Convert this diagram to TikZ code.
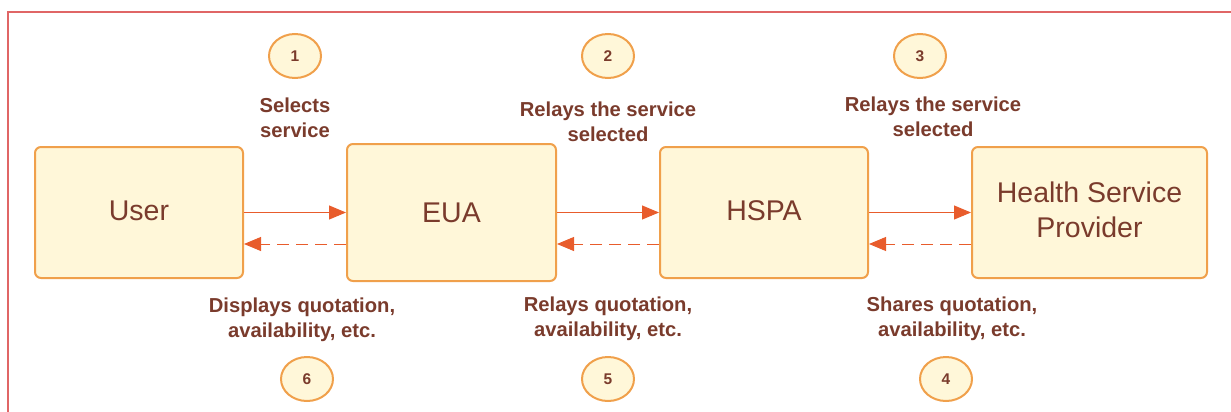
\documentclass[tikz,border=0pt]{standalone}
\usepackage{fontspec}
\setmainfont{Liberation Sans}
\usetikzlibrary{arrows.meta,calc,shapes.geometric}
\definecolor{txtbrown}{HTML}{7A3B2C}
\definecolor{boxfill}{HTML}{FFF7D9}
\definecolor{boxline}{HTML}{F0A04B}
\definecolor{arrowc}{HTML}{E85C2C}
\definecolor{framec}{HTML}{E06666}
\tikzset{
  actor/.style={draw=boxline, fill=boxfill, line width=2pt, rounded corners=6pt,
    text=txtbrown, font=\fontsize{28.5}{35}\selectfont, align=center, inner sep=0pt},
  stepnum/.style={ellipse, draw=boxline, fill=boxfill, line width=2pt,
    minimum width=52pt, minimum height=44pt, inner sep=0pt,
    text=txtbrown, font=\bfseries\fontsize{15.5}{18}\selectfont},
  steplabel/.style={text=txtbrown, font=\bfseries\fontsize{20.2}{24.5}\selectfont, align=center, inner sep=0pt},
  fwd/.style={draw=arrowc, line width=1pt, -{Triangle[length=17pt,width=14pt]}},
  back/.style={draw=arrowc, line width=1pt, dash pattern=on 12pt off 7pt, -{Triangle[length=17pt,width=14pt]}}
}
\begin{document}
\begin{tikzpicture}[x=1pt,y=-1pt]
\useasboundingbox (0,0) rectangle (1231,412);
% frame
\coordinate (fbl) at (8,413);
\coordinate (ftl) at (8,12);
\coordinate (ftr) at (1232,12);
\draw[framec, line width=2.2pt] (fbl) -- (ftl) -- (ftr);
% boxes
\node[actor, minimum width=208pt, minimum height=131pt] (user) at (139,212.5) {\raisebox{4pt}{User}};
\node[actor, minimum width=209pt, minimum height=137pt] (eua) at (451.5,212.5) {EUA};
\node[actor, minimum width=208pt, minimum height=131pt] (hspa) at (764,212.5) {\raisebox{4pt}{HSPA}};
\node[actor, minimum width=235pt, minimum height=131pt] (hsp) at (1089.5,212.5) {\raisebox{4pt}{\begin{tabular}{@{}c@{}}Health Service\\Provider\end{tabular}}};
% arrows
\draw[fwd] (user.east) -- (eua.west);
\draw[fwd] (eua.east) -- (hspa.west);
\draw[fwd] (hspa.east) -- (hsp.west);
\draw[back] ($(eua.west)+(0,31.5)$) -- ($(user.east)+(0,31.5)$);
\draw[back] ($(hspa.west)+(0,31.5)$) -- ($(eua.east)+(0,31.5)$);
\draw[back] ($(hsp.west)+(0,31.5)$) -- ($(hspa.east)+(0,31.5)$);
% step numbers
\node[stepnum] (n1) at (295,56) {1};
\node[stepnum] (n2) at (608,56) {2};
\node[stepnum] (n3) at (920,56) {3};
\node[stepnum] (n6) at (307,379) {6};
\node[stepnum] (n5) at (608,379) {5};
\node[stepnum] (n4) at (946,379) {4};
% labels
\node[steplabel] (l1) at (295,118) {Selects\\service};
\node[steplabel] (l2) at (608,122) {Relays the service\\selected};
\node[steplabel] (l3) at (933,117) {Relays the service\\selected};
\node[steplabel] (l6) at (302,320) {Displays quotation,\\availability, etc.};
\node[steplabel] (l5) at (608,319) {Relays quotation,\\availability, etc.};
\node[steplabel] (l4) at (952,319) {Shares quotation,\\availability, etc.};
\end{tikzpicture}
\end{document}
